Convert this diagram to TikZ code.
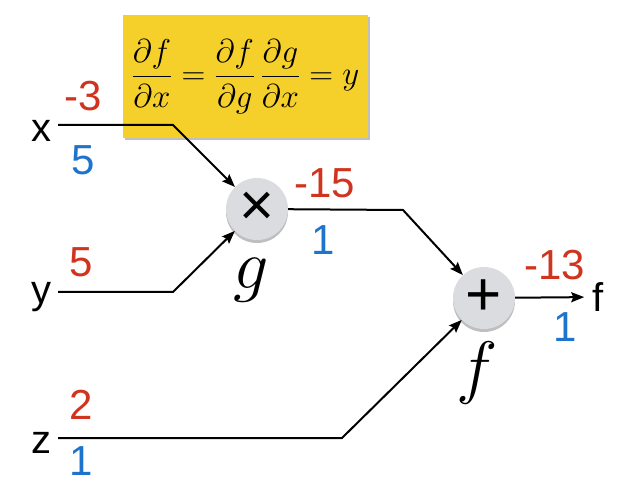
\RequirePackage{fix-cm}
\documentclass[tikz,border=0pt]{standalone}
\usepackage{fontspec}
\setmainfont{Liberation Sans}
\usetikzlibrary{arrows.meta,shadows}

\definecolor{fwdred}{RGB}{208,52,30}
\definecolor{gradblue}{RGB}{30,115,205}
\definecolor{notegold}{RGB}{245,208,42}
\definecolor{gatefill}{RGB}{219,220,223}

\tikzset{
  gate/.style={circle,fill=gatefill,minimum size=62pt,inner sep=0pt,
    drop shadow={shadow xshift=0pt,shadow yshift=-3pt,opacity=0.25,fill=black}},
  wire/.style={line width=2pt},
  arr/.style={wire,-{Stealth[length=13pt,width=10pt,inset=2pt]}},
  val/.style={text=fwdred,font=\fontsize{42}{42}\selectfont},
  grad/.style={text=gradblue,font=\fontsize{42}{42}\selectfont},
  var/.style={font=\fontsize{40}{40}\selectfont},
  fname/.style={font=\fontsize{70}{70}\selectfont}
}

\begin{document}
\begin{tikzpicture}[x=1pt,y=-1pt]
\useasboundingbox (0,0) rectangle (633,484);

% the note
\node[fill=notegold,minimum width=245pt,minimum height=123pt,
  drop shadow={shadow xshift=2pt,shadow yshift=-2pt,opacity=0.25,fill=black}]
  (note) at (245.5,76.5) {\fontsize{33}{38}\selectfont
  $\displaystyle\frac{\partial f}{\partial x}=\frac{\partial f}{\partial g}\,\frac{\partial g}{\partial x}=y$};

% gates
\node[gate,font=\fontsize{60}{60}\selectfont] (mul) at (257,209) {×};
\node[gate,font=\fontsize{62}{62}\selectfont] (add) at (484,298) {+};
\node[fname] (gname) at (251,280) {$g$};
\node[fname] (fname) at (477,373) {$f$};

% inputs
\node[var] (xname) at (41,131) {x};
\node[var] (yname) at (41,297) {y};
\node[var] (zname) at (41,443) {z};
\coordinate (xo) at (58,125);
\coordinate (xb) at (173,125);
\coordinate (yo) at (58,292);
\coordinate (yb) at (173,292);
\coordinate (zo) at (58,438);
\coordinate (zb) at (342,438);
\coordinate (gb) at (403,210);
\node[var,inner sep=8pt] (fout) at (598,297) {f};

\draw[arr] (xo) -- (xb) -- (mul);
\draw[arr] (yo) -- (yb) -- (mul);
\draw[arr] (mul) -- (gb) -- (add);
\draw[arr] (zo) -- (zb) -- (add);
\draw[arr] (add) -- (fout);

% forward values
\node[val] (xval) at (83,96) {-3};
\node[val] (yval) at (81,262) {5};
\node[val] (zval) at (81,405) {2};
\node[val] (gval) at (325,183) {-15};
\node[val] (fval) at (555,265) {-13};

% gradients
\node[grad] (xgrad) at (83,160) {5};
\node[grad] (zgrad) at (81,461) {1};
\node[grad] (ggrad) at (323,240) {1};
\node[grad] (fgrad) at (565,327) {1};
\end{tikzpicture}
\end{document}
